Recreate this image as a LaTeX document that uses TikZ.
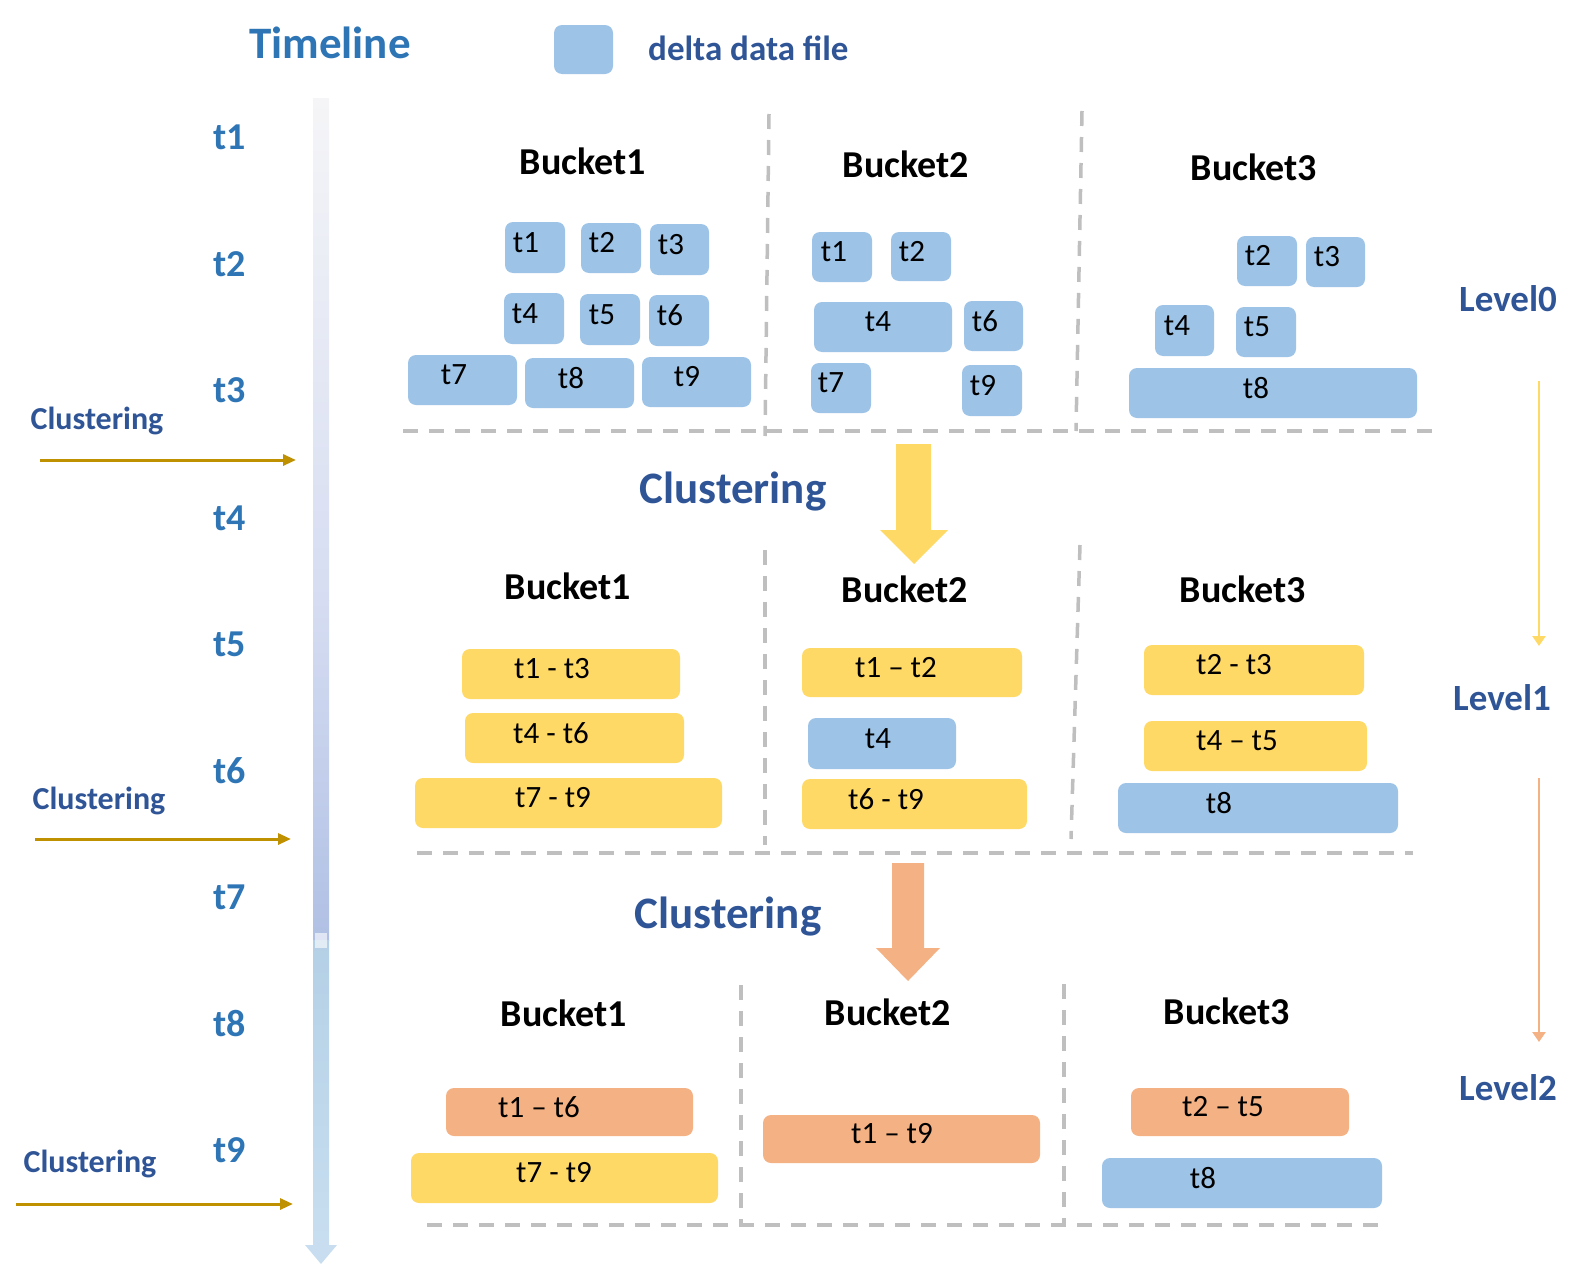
\documentclass[tikz,border=0pt]{standalone}
\usepackage{fontspec}
\setmainfont{Carlito}
\usetikzlibrary{arrows.meta,fit}
\definecolor{boxblue}{RGB}{157,195,230}
\definecolor{boxyellow}{RGB}{255,217,102}
\definecolor{boxorange}{RGB}{244,177,131}
\definecolor{tlblue}{RGB}{46,117,182}
\definecolor{dkblue}{RGB}{47,85,151}
\definecolor{goldc}{RGB}{191,144,0}
\definecolor{dashgray}{RGB}{191,191,191}
\definecolor{tlA}{RGB}{245,245,247}
\definecolor{tlB}{RGB}{214,221,242}
\definecolor{tlC}{RGB}{176,192,228}
\definecolor{tlD}{RGB}{180,208,230}
\definecolor{tlE}{RGB}{200,222,240}
\tikzset{
  filebox/.style={rounded corners=8pt, inner sep=0pt, draw=none},
  bluebox/.style={filebox, fill=boxblue},
  yelbox/.style={filebox, fill=boxyellow},
  orabox/.style={filebox, fill=boxorange},
  boxtext/.style={font=\fontsize{31}{31}\selectfont, inner sep=0pt, text=black},
  heading/.style={font=\bfseries\fontsize{38}{38}\selectfont, inner sep=0pt, text=black},
  tlabel/.style={font=\bfseries\fontsize{38}{38}\selectfont, inner sep=0pt, text=tlblue},
  sideclu/.style={font=\bfseries\fontsize{32}{32}\selectfont, inner sep=0pt, text=dkblue},
  midclu/.style={font=\bfseries\fontsize{45}{45}\selectfont, inner sep=0pt, text=dkblue},
  levlabel/.style={font=\bfseries\fontsize{37}{37}\selectfont, inner sep=0pt, text=dkblue},
  divider/.style={draw=dashgray, line width=3.5pt, dash pattern=on 15pt off 11pt},
  goldarrow/.style={draw=goldc, line width=3pt, -{Triangle[length=13pt,width=11pt]}},
  levarrow/.style={line width=2.5pt, -{Triangle[length=10pt,width=13pt]}},
}
\newcommand\bx[8]{%
  \node[#2, fit={(#3,#4)(#5,#6)}] (#1) {};
  \node[boxtext] (#1-t) at (#7,{(#4+#6)/2-5}) {#8};
}
\begin{document}
\begin{tikzpicture}[x=1pt,y=-1pt]
\useasboundingbox (0,0) rectangle (1582,1266);

% legend and title
\node[font=\bfseries\fontsize{45}{45}\selectfont, text=tlblue, inner sep=0pt] (title) at (330,43) {Timeline};
\node[bluebox, fit={(554,25)(613,74)}] (legbox) {};
\node[font=\bfseries\fontsize{35}{35}\selectfont, text=dkblue, inner sep=0pt, anchor=west] (legtext) at (648,48) {delta data file};

% timeline bar
\shade[top color=tlA, bottom color=tlB] (313,98) rectangle (329,600);
\shade[top color=tlB, bottom color=tlC] (313,600) rectangle (329,940);
\shade[top color=tlD, bottom color=tlE] (313,940) rectangle (329,1246);
\fill[white, opacity=0.6] (315,933) rectangle (327,948);
\fill[tlE] (305,1245) -- (337,1245) -- (321,1264) -- cycle;

% time labels
\foreach \i/\y in {1/137,2/264,3/390,4/518,5/644,6/771,7/897,8/1024,9/1150}{
  \node[tlabel] (tl\i) at (230,\y) {t\i};
}

% side clustering
\node[sideclu] (sc1) at (97,421) {Clustering};
\node[sideclu] (sc2) at (99,801) {Clustering};
\node[sideclu] (sc3) at (90,1164) {Clustering};
\coordinate (sa1s) at (40,460);  \coordinate (sa1e) at (296,460);
\coordinate (sa2s) at (35,839);  \coordinate (sa2e) at (291,839);
\coordinate (sa3s) at (16,1204); \coordinate (sa3e) at (293,1204);
\draw[goldarrow] (sa1s) -- (sa1e);
\draw[goldarrow] (sa2s) -- (sa2e);
\draw[goldarrow] (sa3s) -- (sa3e);

% dividers
\draw[divider] (403,431) -- (1439,431);
\draw[divider] (769,114) -- (765,436);
\draw[divider] (1082,111) -- (1076,431);
\draw[divider] (417,853) -- (1413,853);
\draw[divider] (765,550) -- (765,845);
\draw[divider] (1080,545) -- (1071,839);
\draw[divider] (427,1225) -- (1385,1225);
\draw[divider] (741,985) -- (741,1225);
\draw[divider] (1064,984) -- (1064,1225);

% headings
\node[heading] (h01) at (583,161) {Bucket1};
\node[heading] (h02) at (906,164) {Bucket2};
\node[heading] (h03) at (1254,167) {Bucket3};
\node[heading] (h11) at (568,586) {Bucket1};
\node[heading] (h12) at (905,589) {Bucket2};
\node[heading] (h13) at (1243,589) {Bucket3};
\node[heading] (h21) at (564,1013) {Bucket1};
\node[heading] (h22) at (888,1012) {Bucket2};
\node[heading] (h23) at (1227,1011) {Bucket3};

% level 0, bucket 1
\bx{a1}{bluebox}{505}{222}{565}{273}{526}{t1}
\bx{a2}{bluebox}{581}{223}{641}{273}{602}{t2}
\bx{a3}{bluebox}{650}{224}{709}{275}{671}{t3}
\bx{a4}{bluebox}{504}{293}{564}{344}{525}{t4}
\bx{a5}{bluebox}{580}{294}{640}{345}{602}{t5}
\bx{a6}{bluebox}{649}{295}{709}{346}{670}{t6}
\bx{a7}{bluebox}{408}{355}{517}{405}{454}{t7}
\bx{a8}{bluebox}{525}{358}{634}{408}{571}{t8}
\bx{a9}{bluebox}{642}{357}{751}{407}{687}{t9}
% level 0, bucket 2
\bx{b1}{bluebox}{812}{232}{872}{282}{834}{t1}
\bx{b2}{bluebox}{891}{232}{951}{281}{912}{t2}
\bx{b4}{bluebox}{814}{302}{952}{352}{878}{t4}
\bx{b6}{bluebox}{964}{301}{1023}{351}{985}{t6}
\bx{b7}{bluebox}{811}{363}{871}{413}{831}{t7}
\bx{b9}{bluebox}{962}{365}{1022}{416}{983}{t9}
% level 0, bucket 3
\bx{c2}{bluebox}{1237}{236}{1297}{286}{1258}{t2}
\bx{c3}{bluebox}{1306}{237}{1365}{287}{1327}{t3}
\bx{c4}{bluebox}{1155}{305}{1214}{356}{1177}{t4}
\bx{c5}{bluebox}{1236}{307}{1296}{357}{1257}{t5}
\bx{c8}{bluebox}{1129}{368}{1417}{418}{1256}{t8}

% level 1
\bx{d1}{yelbox}{462}{649}{680}{699}{552}{t1 - t3}
\bx{d2}{yelbox}{465}{713}{684}{763}{551}{t4 - t6}
\bx{d3}{yelbox}{415}{778}{722}{828}{553}{t7 - t9}
\bx{e1}{yelbox}{802}{648}{1022}{697}{896}{t1 – t2}
\bx{e2}{bluebox}{808}{718}{956}{769}{878}{t4}
\bx{e3}{yelbox}{802}{779}{1027}{829}{886}{t6 - t9}
\bx{f1}{yelbox}{1144}{645}{1364}{695}{1234}{t2 - t3}
\bx{f2}{yelbox}{1144}{721}{1367}{771}{1237}{t4 – t5}
\bx{f3}{bluebox}{1118}{783}{1398}{833}{1219}{t8}

% level 2
\bx{g1}{orabox}{446}{1088}{693}{1136}{539}{t1 – t6}
\bx{g2}{yelbox}{411}{1153}{718}{1203}{554}{t7 - t9}
\bx{h1}{orabox}{763}{1115}{1040}{1163}{892}{t1 – t9}
\bx{i1}{orabox}{1131}{1088}{1349}{1136}{1223}{t2 – t5}
\bx{i2}{bluebox}{1102}{1158}{1382}{1208}{1203}{t8}

% block arrows
\fill[boxyellow] (896,444) -- (931,444) -- (931,530) -- (948,530) -- (914,564) -- (880,530) -- (896,530) -- cycle;
\fill[boxorange] (892,863) -- (924,863) -- (924,948) -- (940,948) -- (908,981) -- (876,948) -- (892,948) -- cycle;
\node[midclu] (mc1) at (733,492) {Clustering};
\node[midclu] (mc2) at (728,917) {Clustering};

% level labels and arrows
\node[levlabel] (lv0) at (1508,299) {Level0};
\node[levlabel] (lv1) at (1502,698) {Level1};
\node[levlabel] (lv2) at (1508,1088) {Level2};
\coordinate (la1s) at (1539,381); \coordinate (la1e) at (1539,646);
\coordinate (la2s) at (1539,778); \coordinate (la2e) at (1539,1042);
\draw[levarrow, draw=boxyellow, fill=boxyellow] (la1s) -- (la1e);
\draw[levarrow, draw=boxorange, fill=boxorange] (la2s) -- (la2e);
\end{tikzpicture}
\end{document}
